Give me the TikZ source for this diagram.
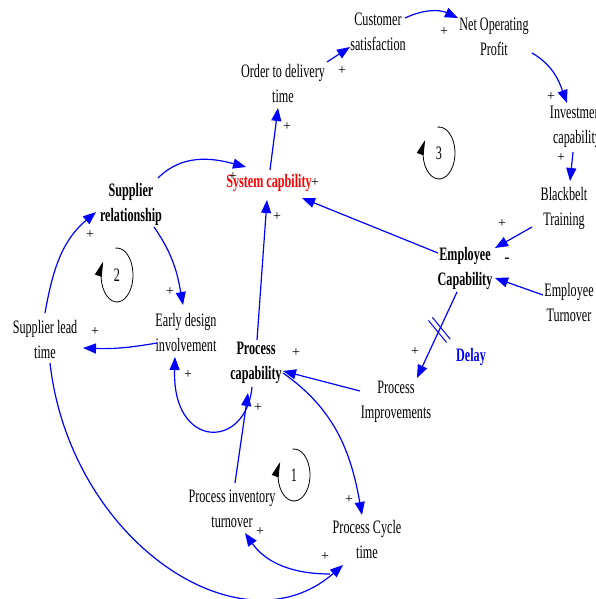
\documentclass[tikz,border=0pt]{standalone}
\usepackage{fontspec}
\setmainfont[FakeStretch=0.64]{Liberation Serif}
\newfontfamily\plusfont{Liberation Serif}
\usetikzlibrary{arrows.meta,calc}
\begin{document}
\begin{tikzpicture}[x=1pt,y=-1pt,
  lbl/.style={align=center,inner sep=1pt,font=\fontsize{19}{25}\selectfont},
  blbl/.style={align=center,inner sep=1pt,font=\fontsize{19}{25}\selectfont\bfseries},
  pl/.style={inner sep=0pt,font=\plusfont\fontsize{14}{14}\selectfont},
  link/.style={draw=blue,line width=1.2pt,-{Triangle[length=13pt,width=10pt]}},
  loopar/.style={draw=black,line width=0.8pt,-{Triangle[length=15pt,width=7pt]}},
  dmark/.style={draw=blue,line width=1pt}
]
\useasboundingbox (0,0) rectangle (596,599);

% nodes
\node[lbl] (ord) at (283,84) {Order to delivery\\time};
\node[lbl] (cs) at (378,32) {Customer\\satisfaction};
\node[lbl] (nop) at (494,37) {Net Operating\\Profit};
\node[lbl] (inv) at (577,127) {Investment\\capability};
\node[lbl] (bb) at (564,208) {Blackbelt\\Training};
\node[blbl] (ec) at (465,268) {Employee\\Capability};
\node[lbl] (et) at (569,302) {Employee\\Turnover};
\node[lbl,text=blue,font=\fontsize{19}{25}\selectfont\bfseries] (dly) at (471,357) {Delay};
\node[lbl] (pi) at (396,402) {Process\\Improvements};
\node[blbl,text=red] (sys) at (269,183) {System capbility};
\node[blbl] (sr) at (131,204) {Supplier\\relationship};
\node[lbl] (ed) at (186,332) {Early design\\involvement};
\node[lbl] (sl) at (45,339) {Supplier lead\\time};
\node[blbl] (pc) at (256,363) {Process\\capability};
\node[lbl] (pit) at (232,509) {Process inventory\\turnover};
\node[lbl] (pct) at (367,539) {Process Cycle\\time};

% connectors
\draw[link] ([shift={(44,-22)}]ord.center) -- ([shift={(-28,15)}]cs.center);
\draw[link] ([shift={(27,-14)}]cs.center) to[bend left=25] ([shift={(-36,-19)}]nop.center);
\draw[link] ([shift={(38,16)}]nop.center) to[out=-30,in=110] ([shift={(-10,-24)}]inv.center);
\draw[link] ([shift={(-4,25)}]inv.center) -- ([shift={(6,-27)}]bb.center);
\draw[link] ([shift={(-32,19)}]bb.center) -- ([shift={(30,-20)}]ec.center);
\draw[link] ([shift={(-26,-7)}]et.center) -- ([shift={(30,10)}]ec.center);
\draw[link] ([shift={(-27,-15)}]ec.center) -- ([shift={(33,15)}]sys.center);
\draw[link] ([shift={(-8,24)}]ec.center) -- coordinate[pos=0.44] (dl) ([shift={(21,-24)}]pi.center);
\draw[link] ([shift={(-36,-11)}]pi.center) -- ([shift={(27,8)}]pc.center);
\draw[link] ([shift={(1,-23)}]pc.center) -- ([shift={(-2,17)}]sys.center);
\draw[link] ([shift={(1,-13)}]sys.center) -- ([shift={(-5,24)}]ord.center);
\draw[link] ([shift={(27,-26)}]sr.center) to[out=45,in=165] ([shift={(-23,-16)}]sys.center);
\draw[link] ([shift={(23,23)}]sr.center) to[out=-55,in=100] ([shift={(-3,-27)}]ed.center);
\draw[link] ([shift={(-29,11)}]ed.center) to[bend left=6] ([shift={(38,9)}]sl.center);
\draw[link] ([shift={(0,-26)}]sl.center) to[out=80,in=220] ([shift={(-35,8)}]sr.center);
\draw[link] ([shift={(5,24)}]sl.center) .. controls +(20,177) and +(-103,90) .. ([shift={(-24,26)}]pct.center);
\draw[link] ([shift={(-4,24)}]pc.center) .. controls +(-6,63) and +(-3,93) .. ([shift={(-11,25)}]ed.center);
\draw[link] ([shift={(3,-26)}]pit.center) -- ([shift={(-8,30)}]pc.center);
\draw[link] ([shift={(27,10)}]pc.center) to[out=-35,in=100] ([shift={(-5,-24)}]pct.center);
\draw[link] ([shift={(-37,35)}]pct.center) to[out=180,in=-55] ([shift={(13,24)}]pit.center);

% delay marks
\draw[dmark] ([shift={(-7.1,-12.6)}]dl) -- ([shift={(10.9,9.4)}]dl);
\draw[dmark] ([shift={(-10.9,-9.4)}]dl) -- ([shift={(7.1,12.6)}]dl);

% polarity signs
\node[pl] (p1) at (342,71) {+};
\node[pl] (p2) at (444,32) {+};
\node[pl] (p3) at (551,97) {+};
\node[pl] (p4) at (561,158) {+};
\node[pl] (p5) at (502,224) {+};
\node[pl,font=\plusfont\fontsize{16}{16}\selectfont\bfseries] (m1) at (507,260) {-};
\node[pl] (p6) at (315,183) {+};
\node[pl] (p7) at (233,177) {+};
\node[pl] (p8) at (277,217) {+};
\node[pl] (p9) at (287,127) {+};
\node[pl] (p10) at (170,292) {+};
\node[pl] (p11) at (95,332) {+};
\node[pl] (p12) at (90,235) {+};
\node[pl] (p13) at (188,375) {+};
\node[pl] (p14) at (258,408) {+};
\node[pl] (p15) at (296,353) {+};
\node[pl] (p16) at (415,352) {+};
\node[pl] (p17) at (349,500) {+};
\node[pl] (p18) at (260,532) {+};
\node[pl] (p19) at (325,557) {+};

% loop markers
\node[lbl] (n3) at (439,153) {3};
\draw[loopar] ([shift={(95:16pt and 26pt)}]n3.center) arc[start angle=95,end angle=-210,x radius=16pt,y radius=26pt];
\node[lbl] (n2) at (117,275) {2};
\draw[loopar] ([shift={(95:16pt and 27pt)}]n2.center) arc[start angle=95,end angle=-210,x radius=16pt,y radius=27pt];
\node[lbl] (n1) at (294,475) {1};
\draw[loopar] ([shift={(95:16pt and 26pt)}]n1.center) arc[start angle=95,end angle=-210,x radius=16pt,y radius=26pt];
\end{tikzpicture}
\end{document}
